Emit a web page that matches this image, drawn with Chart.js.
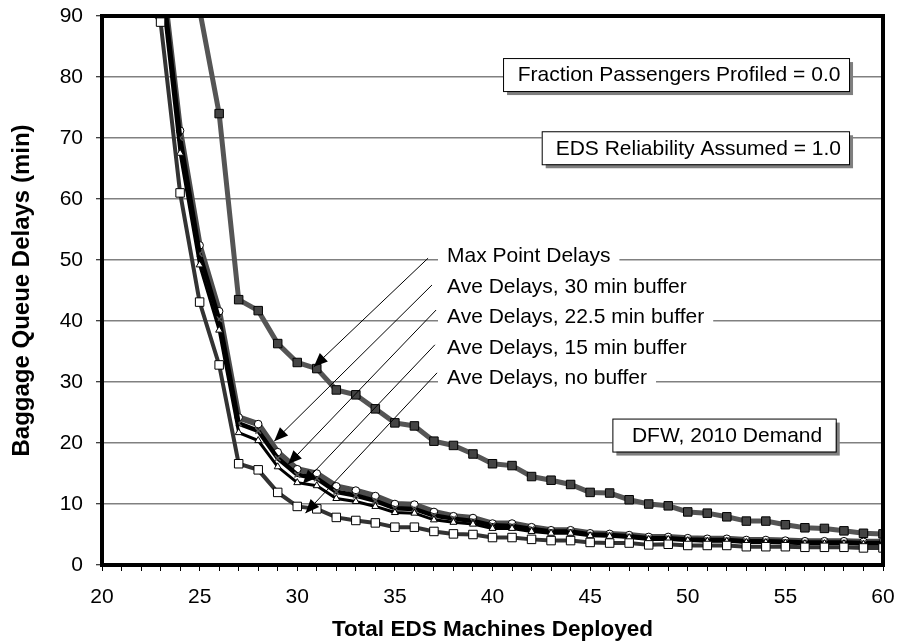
<!DOCTYPE html>
<html>
<head>
<meta charset="utf-8">
<script src="https://cdn.jsdelivr.net/npm/chart.js@4/dist/chart.umd.min.js"></script>
<style>
  html, body { margin: 0; padding: 0; background: #fff; }
  #wrap { width: 898px; height: 643px; }
</style>
</head>
<body>
<div id="wrap"><canvas id="delayChart" width="898" height="643"></canvas></div>
<script>
// EDS machines deployed (x values)
const machines = [22, 23, 24, 25, 26, 27, 28, 29, 30, 31, 32, 33, 34, 35, 36, 37, 38, 39, 40, 41,
                  42, 43, 44, 45, 46, 47, 48, 49, 50, 51, 52, 53, 54, 55, 56, 57, 58, 59, 60];

// baggage queue delays (min)
const maxPointDelays = [null, null, null, 91, 74, 43.5, 41.7, 36.3, 33.2, 32.2, 28.7, 27.9, 25.6, 23.3, 22.8, 20.3, 19.6, 18.2, 16.6, 16.3,
                        14.5, 13.9, 13.2, 11.9, 11.8, 10.7, 10.0, 9.7, 8.7, 8.5, 7.9, 7.2, 7.2, 6.6, 6.1, 6.0, 5.6, 5.2, 5.1];
const aveBuffer30 = [null, 99, 71.2, 52.4, 41.6, 24.2, 23.1, 18.5, 15.7, 15.0, 12.9, 12.2, 11.3, 10.0, 9.9, 8.7, 8.0, 7.7, 6.8, 6.8,
                     6.2, 5.7, 5.7, 5.2, 5.1, 4.9, 4.6, 4.6, 4.4, 4.3, 4.3, 4.1, 4.1, 4.0, 3.9, 3.9, 3.9, 3.8, 3.8];
const aveBuffer22 = [null, 98, 70.0, 51.0, 40.3, 23.2, 22.0, 17.5, 14.8, 14.2, 12.0, 11.4, 10.5, 9.3, 9.2, 8.1, 7.6, 7.2, 6.5, 6.4,
                     5.9, 5.5, 5.5, 5.0, 4.9, 4.7, 4.4, 4.4, 4.2, 4.1, 4.1, 3.9, 3.9, 3.8, 3.7, 3.7, 3.7, 3.6, 3.6];
const aveBuffer15 = [null, 96, 67.5, 49.2, 38.5, 21.7, 20.4, 16.1, 13.5, 13.0, 10.9, 10.4, 9.6, 8.6, 8.5, 7.4, 7.0, 6.7, 6.0, 6.0,
                     5.5, 5.2, 5.2, 4.8, 4.7, 4.5, 4.2, 4.2, 4.0, 3.9, 3.9, 3.7, 3.7, 3.6, 3.5, 3.5, 3.5, 3.4, 3.4];
const aveNoBuffer = [93, 89, 61.0, 43.1, 32.8, 16.6, 15.6, 11.9, 9.6, 9.2, 7.8, 7.3, 6.9, 6.2, 6.2, 5.5, 5.1, 5.0, 4.5, 4.5,
                     4.2, 4.0, 4.0, 3.7, 3.6, 3.6, 3.3, 3.4, 3.2, 3.2, 3.2, 3.0, 3.0, 3.0, 2.9, 2.9, 2.9, 2.8, 2.8];

const xTicks = [20, 25, 30, 35, 40, 45, 50, 55, 60];

const FONT = "'Liberation Sans', Arial, Helvetica, sans-serif";

function points(series) {
    return machines.map((m, i) => ({ x: m, y: series[i] })).filter(p => p.y !== null);
}

// series labels with leader arrows (data coordinates)
const callouts = [
    { text: 'Max Point Delays',            y: 50.6, from: [36.70, 50.3], to: [30.85, 32.5] },
    { text: 'Ave Delays, 30 min buffer',   y: 45.6, from: [36.90, 45.9], to: [28.82, 20.3] },
    { text: 'Ave Delays, 22.5 min buffer', y: 40.6, from: [37.11, 41.8], to: [29.53, 16.5] },
    { text: 'Ave Delays, 15 min buffer',   y: 35.6, from: [37.05, 36.1], to: [30.28, 13.3] },
    { text: 'Ave Delays, no buffer',       y: 30.6, from: [37.16, 31.5], to: [30.42, 8.5] }
];
const calloutX = 37.67;

const noteBoxes = [
    { text: 'Fraction Passengers Profiled = 0.0', x0: 40.54, x1: 58.26, y: 80.4 },
    { text: 'EDS Reliability Assumed = 1.0',      x0: 42.52, x1: 58.26, y: 68.4 },
    { text: 'DFW, 2010 Demand',                   x0: 46.14, x1: 57.58, y: 21.3 }
];

const annotations = {
    id: 'annotations',
    afterDatasetsDraw(chart) {
        const { ctx, chartArea, scales: { x, y } } = chart;
        ctx.save();
        ctx.font = '21px ' + FONT;
        ctx.textBaseline = 'middle';

        // callout labels on white backgrounds
        callouts.forEach(c => {
            const tx = x.getPixelForValue(calloutX);
            const ty = y.getPixelForValue(c.y);
            const w = ctx.measureText(c.text).width;
            ctx.fillStyle = '#fff';
            ctx.fillRect(tx - 9, ty - 12, w + 18, 24);
            ctx.fillStyle = '#000';
            ctx.textAlign = 'left';
            ctx.fillText(c.text, tx, ty);
        });

        // leader lines + arrowheads
        callouts.forEach(c => {
            const x0 = x.getPixelForValue(c.from[0]), y0 = y.getPixelForValue(c.from[1]);
            const x1 = x.getPixelForValue(c.to[0]), y1 = y.getPixelForValue(c.to[1]);
            ctx.strokeStyle = '#000';
            ctx.lineWidth = 1;
            ctx.beginPath();
            ctx.moveTo(x0, y0);
            ctx.lineTo(x1, y1);
            ctx.stroke();
            const ang = Math.atan2(y1 - y0, x1 - x0);
            const len = 15, half = 0.4;
            ctx.fillStyle = '#000';
            ctx.beginPath();
            ctx.moveTo(x1, y1);
            ctx.lineTo(x1 - len * Math.cos(ang - half), y1 - len * Math.sin(ang - half));
            ctx.lineTo(x1 - len * Math.cos(ang + half), y1 - len * Math.sin(ang + half));
            ctx.closePath();
            ctx.fill();
        });

        // boxed notes with drop shadow
        noteBoxes.forEach(b => {
            const bx0 = x.getPixelForValue(b.x0), bx1 = x.getPixelForValue(b.x1);
            const cy = y.getPixelForValue(b.y);
            const h = 33;
            ctx.fillStyle = '#7f7f7f';
            ctx.fillRect(bx0 + 4, cy - h / 2 + 4, bx1 - bx0, h);
            ctx.fillStyle = '#fff';
            ctx.fillRect(bx0, cy - h / 2, bx1 - bx0, h);
            ctx.strokeStyle = '#000';
            ctx.lineWidth = 1;
            ctx.strokeRect(bx0 + 0.5, cy - h / 2 + 0.5, bx1 - bx0, h);
            ctx.fillStyle = '#000';
            ctx.textAlign = 'center';
            ctx.fillText(b.text, (bx0 + bx1) / 2 + 3, cy + 1);
        });

        // heavy frame around the plot
        ctx.strokeStyle = '#000';
        ctx.lineWidth = 4;
        ctx.strokeRect(chartArea.left, chartArea.top, chartArea.right - chartArea.left, chartArea.bottom - chartArea.top);
        ctx.restore();
    }
};

const ctx = document.getElementById('delayChart').getContext('2d');
new Chart(ctx, {
    type: 'line',
    data: {
        datasets: [
            {
                label: 'Ave Delays, no buffer',
                data: points(aveNoBuffer),
                borderColor: '#333333',
                borderWidth: 4,
                pointStyle: 'rect',
                pointRadius: 6,
                pointBackgroundColor: '#ffffff',
                pointBorderColor: '#000000',
                pointBorderWidth: 1
            },
            {
                label: 'Ave Delays, 15 min buffer',
                data: points(aveBuffer15),
                borderColor: '#000000',
                borderWidth: 3,
                pointStyle: 'triangle',
                pointRadius: 4,
                pointBackgroundColor: '#ffffff',
                pointBorderColor: '#000000',
                pointBorderWidth: 1
            },
            {
                label: 'Ave Delays, 22.5 min buffer',
                data: points(aveBuffer22),
                borderColor: '#000000',
                borderWidth: 4.5,
                pointStyle: 'crossRot',
                pointRadius: 4,
                pointBorderColor: '#555555',
                pointBorderWidth: 1.5
            },
            {
                label: 'Ave Delays, 30 min buffer',
                data: points(aveBuffer30),
                borderColor: '#4d4d4d',
                borderWidth: 6,
                pointStyle: 'circle',
                pointRadius: 3.8,
                pointBackgroundColor: '#ffffff',
                pointBorderColor: '#000000',
                pointBorderWidth: 1
            },
            {
                label: 'Max Point Delays',
                data: points(maxPointDelays),
                borderColor: '#555555',
                borderWidth: 5,
                pointStyle: 'rect',
                pointRadius: 6,
                pointBackgroundColor: '#444444',
                pointBorderColor: '#000000',
                pointBorderWidth: 1
            }
        ]
    },
    options: {
        animation: false,
        responsive: false,
        devicePixelRatio: 1,
        layout: { padding: { top: 16, right: 15, left: 0, bottom: 0 } },
        plugins: {
            legend: { display: false },
            tooltip: { enabled: false }
        },
        elements: { line: { tension: 0 } },
        scales: {
            x: {
                type: 'linear',
                min: 20,
                max: 60,
                afterFit: s => {
                    s.height = 78;
                    s.paddingLeft = 0;
                    s.paddingRight = 0;
                },
                afterBuildTicks: s => {
                    s.ticks = Array.from({ length: 41 }, (_, i) => ({ value: 20 + i }));
                },
                ticks: {
                    autoSkip: false,
                    maxRotation: 0,
                    padding: 14,
                    color: '#000',
                    font: { family: FONT, size: 21 },
                    callback: v => (xTicks.includes(v) ? String(v) : '')
                },
                grid: { drawOnChartArea: false, tickLength: 6, tickColor: '#000', tickWidth: 1 },
                border: { display: true, color: '#000', width: 4 },
                title: {
                    display: true,
                    text: 'Total EDS Machines Deployed',
                    color: '#000',
                    font: { family: FONT, size: 22.5, weight: 'bold' },
                    padding: { top: 0, bottom: 0 }
                }
            },
            y: {
                min: 0,
                max: 90,
                afterFit: s => {
                    s.width = 102;
                    s.paddingTop = 0;
                    s.paddingBottom = 0;
                },
                ticks: {
                    stepSize: 10,
                    padding: 13,
                    color: '#000',
                    font: { family: FONT, size: 21 }
                },
                grid: { color: '#808080', lineWidth: 1.5, tickLength: 6, tickColor: '#000', tickWidth: 1 },
                border: { display: true, color: '#000', width: 4 },
                title: {
                    display: true,
                    text: 'Baggage Queue Delays (min)',
                    color: '#000',
                    font: { family: FONT, size: 24, weight: 'bold' },
                    padding: { top: 8, bottom: 0 }
                }
            }
        }
    },
    plugins: [annotations]
});
</script>
</body>
</html>
